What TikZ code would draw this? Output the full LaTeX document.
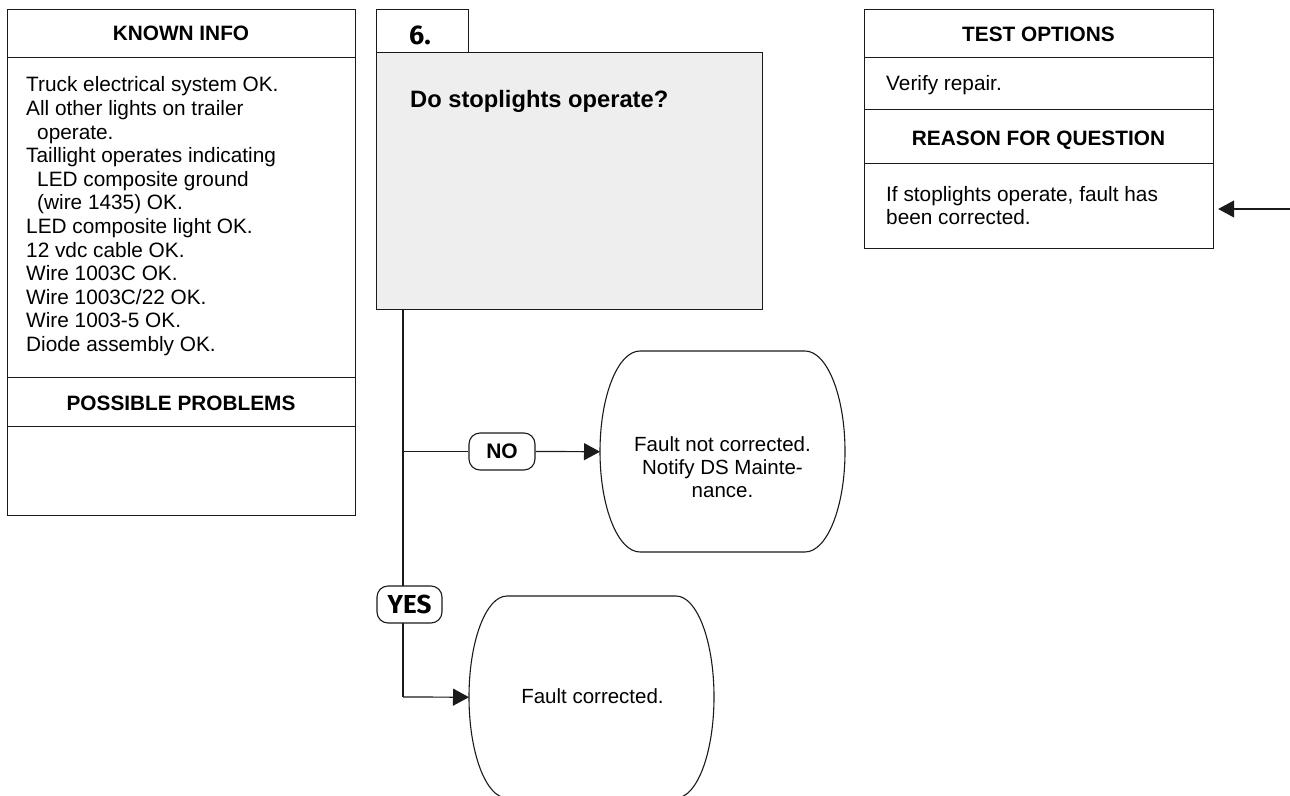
\documentclass[tikz,border=0pt]{standalone}
\usepackage{fontspec}
\setmainfont{Liberation Sans}
\newfontfamily\numfont{Fira Sans}
\usetikzlibrary{arrows.meta}
\definecolor{linecol}{HTML}{1A1A1A}
\definecolor{qfill}{HTML}{EEEEEE}
\tikzset{
  cell/.style={draw=linecol, line width=1.2pt, anchor=north west, inner sep=0pt, minimum width=#1},
  pill/.style={draw=linecol, line width=1.1pt, rounded corners=11pt, fill=white, inner sep=0pt, minimum width=66pt, minimum height=37pt},
  conn/.style={draw=linecol, line width=1.2pt},
  arr/.style={conn, -{Triangle[length=16pt,width=17pt]}},
  hdr/.style={anchor=base, inner sep=0pt, font=\fontsize{20.8}{23.6}\selectfont\bfseries},
  body/.style={anchor=north west, inner sep=0pt, align=left},
  termline/.style={draw=linecol, line width=1.1pt},
  ghost/.style={draw=none, inner sep=0pt, anchor=north west},
}
\begin{document}
\begin{tikzpicture}[x=1pt,y=-1pt]
\useasboundingbox (0,0) rectangle (1290,795);

% KNOWN INFO column
\node[cell=348pt, minimum height=48pt] (kihead) at (7,9) {};
\node[cell=348pt, minimum height=320pt] (kibody) at (7,57) {};
\node[cell=348pt, minimum height=49pt] (pphead) at (7,377) {};
\node[cell=348pt, minimum height=89pt] (ppbody) at (7,426) {};
\node[hdr] (kitext) at (181,40.5) {KNOWN INFO};
\node[hdr] (pptext) at (181,410) {POSSIBLE PROBLEMS};
\node[body, font=\fontsize{20.8}{23.6}\selectfont] (kilist) at (26,75.2) {%
\strut Truck electrical system OK.\\
\strut All other lights on trailer\\
\strut\hspace*{11pt}operate.\\
\strut Taillight operates indicating\\
\strut\hspace*{11pt}LED composite ground\\
\strut\hspace*{11pt}(wire 1435) OK.\\
\strut LED composite light OK.\\
\strut 12 vdc cable OK.\\
\strut Wire 1003C OK.\\
\strut Wire 1003C/22 OK.\\
\strut Wire 1003-5 OK.\\
\strut Diode assembly OK.};

% Question box
\node[cell=92pt, minimum height=43pt, fill=white] (tab) at (376,9) {};
\node[cell=386pt, minimum height=257pt, fill=qfill] (q) at (376,52) {};
\node[anchor=base, inner sep=0pt, font=\numfont\fontsize{27}{30}\selectfont\bfseries] (num) at (420,44.5) {6.};
\node[anchor=base west, inner sep=0pt, font=\fontsize{23.7}{27}\selectfont\bfseries] (qtext) at (410,107.3) {Do stoplights operate?};

% TEST OPTIONS column
\node[cell=349pt, minimum height=48pt] (tohead) at (864,9) {};
\node[cell=349pt, minimum height=52pt] (tobody) at (864,57) {};
\node[cell=349pt, minimum height=54pt] (rqhead) at (864,109) {};
\node[cell=349pt, minimum height=85pt] (rqbody) at (864,163) {};
\node[hdr] (totext) at (1038.5,41.5) {TEST OPTIONS};
\node[anchor=base west, inner sep=0pt, font=\fontsize{20.8}{23.6}\selectfont] (verify) at (886,90) {Verify repair.};
\node[hdr] (rqtext) at (1038.5,145.7) {REASON FOR QUESTION};
\node[body, font=\fontsize{20.8}{22.3}\selectfont] (reason) at (886,186.1) {%
\strut If stoplights operate, fault has\\
\strut been corrected.};

% terminators
\node[ghost, minimum width=245pt, minimum height=201pt] (t1) at (600,351) {};
\draw[termline] (640,351) -- (805,351)
  .. controls (827.1,351) and (845,396) .. (845,451.5)
  .. controls (845,507) and (827.1,552) .. (805,552) -- (640,552)
  .. controls (617.9,552) and (600,507) .. (600,451.5)
  .. controls (600,396) and (617.9,351) .. (640,351) -- cycle;
\node[anchor=north, inner sep=0pt, align=center, font=\fontsize{20.5}{22.7}\selectfont] (t1text) at (722.5,435.8) {%
\strut Fault not corrected.\\
\strut Notify DS Mainte-\\
\strut nance.};

\node[ghost, minimum width=245pt, minimum height=202pt] (t2) at (469,596) {};
\draw[termline] (507,596) -- (676,596)
  .. controls (697,596) and (714,641.2) .. (714,697)
  .. controls (714,752.8) and (697,798) .. (676,798) -- (507,798)
  .. controls (486,798) and (469,752.8) .. (469,697)
  .. controls (469,641.2) and (486,596) .. (507,596) -- cycle;
\node[anchor=base, inner sep=0pt, font=\fontsize{20.5}{22.7}\selectfont] (t2text) at (592.5,703) {Fault corrected.};

% connectors
\coordinate (qb) at (403,309);
\coordinate (nb) at (403,451.5);
\coordinate (yc) at (403,697);
\node[pill] (no) at (502,451.5) {\fontsize{21}{24}\selectfont\bfseries NO};
\draw[conn] (qb) -- (yc);
\draw[conn] (nb) -- (no.west);
\draw[arr] (no.east) -- (t1.west);
\draw[arr] (yc) -- (t2.west);
\node[pill, minimum width=65pt] (yes) at (409.5,604.5) {\numfont\fontsize{26}{28}\selectfont\bfseries YES};

\coordinate (ext) at (1290,209);
\draw[arr, shorten >=4pt] (ext) -- (ext -| rqbody.east);
\end{tikzpicture}
\end{document}
